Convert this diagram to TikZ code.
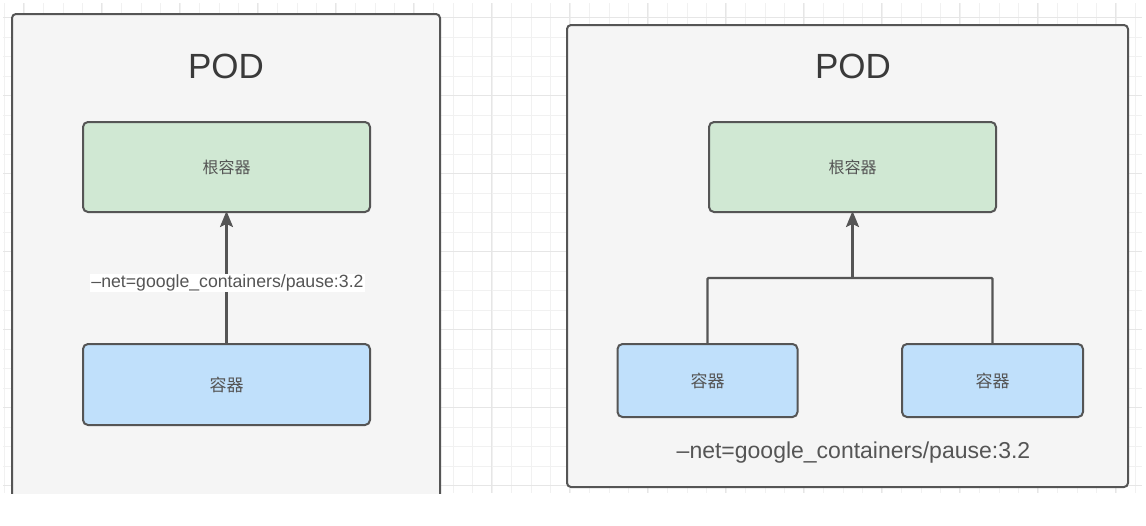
\documentclass[tikz,border=0pt]{standalone}
\usepackage{fontspec}
\setmainfont{Liberation Sans}
\newfontfamily\cjk{Noto Sans CJK SC}
\usetikzlibrary{arrows.meta}
\definecolor{podfill}{HTML}{F5F5F5}
\definecolor{edgecol}{HTML}{555555}
\definecolor{rootfill}{HTML}{D0E8D3}
\definecolor{ctrfill}{HTML}{C0E0FB}
\definecolor{txtcol}{HTML}{555555}
\definecolor{titlecol}{HTML}{3A3A3A}
\definecolor{gridminor}{HTML}{F1F1F1}
\definecolor{gridmajor}{HTML}{E6E6E6}
\begin{document}
\begin{tikzpicture}[x=1pt,y=-1pt,
  podline/.style={draw=edgecol,line width=2pt,rounded corners=4pt},
  rootbox/.style={draw=edgecol,line width=2pt,rounded corners=5pt,fill=rootfill,
    minimum width=287pt,minimum height=90pt,inner sep=0pt,
    font=\cjk\fontsize{16}{16}\selectfont,text=txtcol},
  ctrbox/.style={draw=edgecol,line width=2pt,rounded corners=5pt,fill=ctrfill,
    inner sep=0pt,font=\cjk\fontsize{17}{17}\selectfont,text=txtcol},
  title/.style={font=\fontsize{35}{35}\selectfont,text=titlecol,inner sep=0pt},
  netlabel/.style={text=txtcol,inner sep=1pt},
  conn/.style={draw=edgecol,line width=2.2pt},
  arr/.style={conn,-{Stealth[length=16pt,width=13pt,inset=3pt]},shorten >=-2pt}
]
\useasboundingbox (0,0) rectangle (1146,525);
\fill[white] (0,0) rectangle (1146,525);
% grid
\foreach \x in {4.8,24.3,...,1142} \draw[gridminor,line width=0.8pt] (\x,3) -- (\x,493);
\foreach \y in {17.5,37,...,494} \draw[gridminor,line width=0.8pt] (3,\y) -- (1142,\y);
\foreach \x in {23,101,...,1142} \draw[gridmajor,line width=0.8pt] (\x,3) -- (\x,493);
\foreach \y in {17.5,95.5,...,494} \draw[gridmajor,line width=0.8pt] (3,\y) -- (1142,\y);

% left pod (cut off at bottom)
\begin{scope}
\clip (0,0) rectangle (1146,493);
\path[podline,fill=podfill] (12,14) rectangle (440,520);
\end{scope}
\node[title] (pod1) at (226,66) {POD};
\node[rootbox] (root1) at (226.5,167) {根容器};
\node[ctrbox,minimum width=287pt,minimum height=81pt] (ctr1) at (226.5,384.5) {容器};
\draw[arr] (ctr1) -- (root1);
\node[netlabel,fill=white,font=\fontsize{17.7}{18}\selectfont] (lab1) at (227.5,283) {–net=google\_containers/pause:3.2};

% right pod
\path[podline,fill=podfill] (567,25) rectangle (1128,487);
\node[title] (pod2) at (853,66) {POD};
\node[rootbox] (root2) at (852.5,167) {根容器};
\node[ctrbox,minimum width=180pt,minimum height=73pt] (ctrA) at (707.5,380.5) {容器};
\node[ctrbox,minimum width=181pt,minimum height=73pt] (ctrB) at (992.5,380.5) {容器};
\coordinate (join) at (852.5,278);
\draw[conn,rounded corners=1pt] (ctrA.north) |- (join) -| (ctrB.north);
\draw[arr] (join) -- (root2);
\node[netlabel,font=\fontsize{23}{23}\selectfont] (lab2) at (853.5,453) {–net=google\_containers/pause:3.2};
\end{tikzpicture}
\end{document}
